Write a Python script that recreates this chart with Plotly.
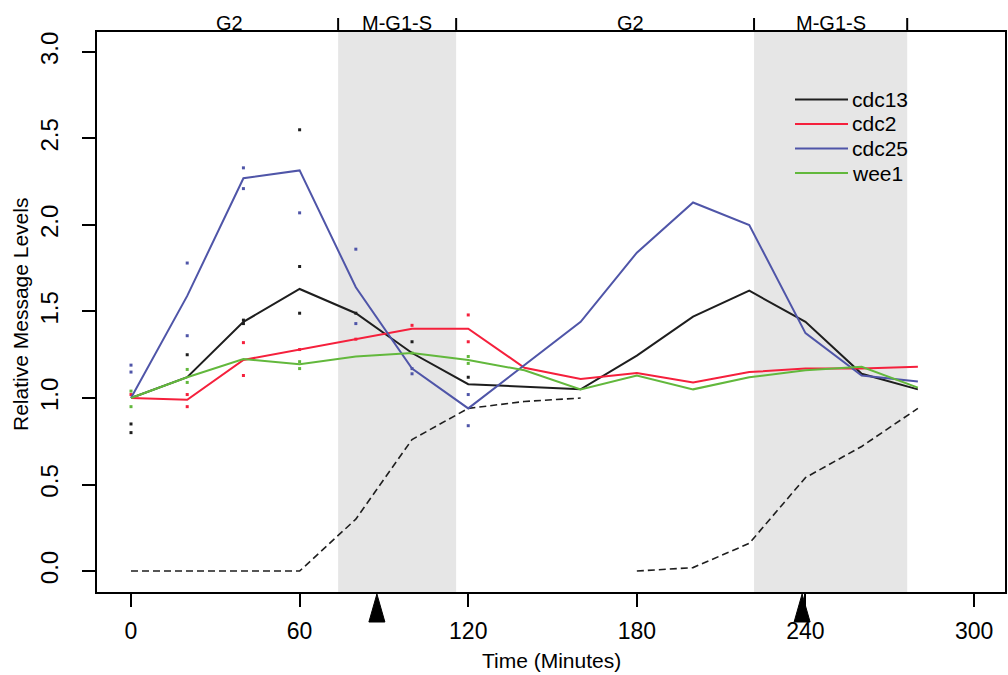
import plotly.graph_objects as go

# ---- data ----
time = [0, 20, 40, 60, 80, 100, 120, 140, 160, 180, 200, 220, 240, 260, 280]
cdc13 = [1.00, 1.12, 1.44, 1.63, 1.49, 1.26, 1.08, 1.065, 1.05, 1.245, 1.47, 1.62, 1.44, 1.14, 1.05]
cdc2 = [1.00, 0.99, 1.22, 1.28, 1.34, 1.40, 1.40, 1.175, 1.11, 1.145, 1.09, 1.15, 1.17, 1.17, 1.18]
cdc25 = [1.00, 1.59, 2.27, 2.315, 1.64, 1.17, 0.94, 1.19, 1.44, 1.84, 2.13, 2.00, 1.375, 1.13, 1.095]
wee1 = [1.00, 1.12, 1.225, 1.195, 1.24, 1.26, 1.22, 1.16, 1.05, 1.13, 1.05, 1.12, 1.16, 1.18, 1.06]

# septation index (dashed), two cycles
sept_time = [0, 20, 40, 60, 80, 100, 120, 140, 160, None, 180, 200, 220, 240, 260, 280]
sept_val = [0, 0, 0, 0, 0.30, 0.76, 0.94, 0.98, 1.00, None, 0, 0.02, 0.16, 0.54, 0.72, 0.94]

# replicate measurements (small dots)
cdc13_rep_t = [0, 0, 20, 40, 40, 60, 60, 60, 80, 100, 120]
cdc13_rep_v = [0.85, 0.80, 1.25, 1.45, 1.43, 2.55, 1.76, 1.49, 1.49, 1.325, 1.12]
cdc25_rep_t = [0, 0, 20, 20, 40, 40, 60, 80, 80, 100, 100, 120, 120]
cdc25_rep_v = [1.19, 1.15, 1.78, 1.36, 2.33, 2.21, 2.07, 1.86, 1.43, 1.17, 1.14, 1.02, 0.84]
cdc2_rep_t = [0, 20, 20, 40, 40, 60, 80, 100, 120, 120]
cdc2_rep_v = [1.02, 1.02, 0.95, 1.32, 1.13, 1.28, 1.34, 1.42, 1.48, 1.325]
wee1_rep_t = [0, 0, 20, 20, 60, 60, 100, 120, 120]
wee1_rep_v = [1.04, 0.95, 1.165, 1.09, 1.21, 1.17, 1.26, 1.24, 1.20]

series_names = ["cdc13", "cdc2", "cdc25", "wee1"]

phase_bounds = [73.7, 115.7, 221.7, 276.2]
phase_labels = ["G2", "M-G1-S", "G2", "M-G1-S"]
phase_label_x = [35.2, 94.7, 177.6, 249.0]
arrow_times = [87.5, 238.8]

x_ticks = [0, 60, 120, 180, 240, 300]
y_ticks = [0.0, 0.5, 1.0, 1.5, 2.0, 2.5, 3.0]

XR = [-12.1, 311.0]
YR = [-0.121, 3.115]

colors = {"cdc13": "#1e1e1e", "cdc2": "#f5203c", "cdc25": "#4f55a8", "wee1": "#62b83c"}
FONT = "Liberation Sans, Arial, Helvetica, sans-serif"

W, H = 1008, 675
ML, MR, MT, MB = 97, 3, 32, 83
PW, PH = W - ML - MR, H - MT - MB


def xp(v):
    return (v - XR[0]) / (XR[1] - XR[0])


def px_x(p):
    return (p - ML) / PW


def px_y(p):
    return 1 - (p - MT) / PH


fig = go.Figure()

# replicate dots
for name, rt, rv in [("cdc13", cdc13_rep_t, cdc13_rep_v), ("cdc2", cdc2_rep_t, cdc2_rep_v),
                     ("cdc25", cdc25_rep_t, cdc25_rep_v), ("wee1", wee1_rep_t, wee1_rep_v)]:
    fig.add_trace(go.Scatter(x=rt, y=rv, mode="markers", showlegend=False,
                             marker=dict(symbol="square", size=3, color=colors[name], line=dict(width=0)),
                             hoverinfo="skip"))

fig.add_trace(go.Scatter(x=sept_time, y=sept_val, mode="lines", showlegend=False,
                         line=dict(color="#1e1e1e", width=1.6, dash="7px,4px")))

for name, vals in zip(series_names, [cdc13, cdc2, cdc25, wee1]):
    fig.add_trace(go.Scatter(x=time, y=vals, mode="lines", name=name, showlegend=False,
                             line=dict(color=colors[name], width=2)))

shapes = []
# shaded M-G1-S phases
for i in range(0, len(phase_bounds), 2):
    shapes.append(dict(type="rect", xref="x", yref="paper", x0=phase_bounds[i], x1=phase_bounds[i + 1],
                       y0=0, y1=1, fillcolor="#e6e6e6", line=dict(width=0), layer="below"))
# top phase boundary ticks
for b in phase_bounds:
    shapes.append(dict(type="line", xref="paper", yref="paper", x0=xp(b), x1=xp(b),
                       y0=1, y1=1 + 14 / PH, line=dict(color="black", width=2)))
# arrows under the x axis
for t in arrow_times:
    c = xp(t)
    w = 8 / PW
    shapes.append(dict(type="path", xref="paper", yref="paper",
                       path=f"M {c - w} {-30 / PH} L {c + w} {-30 / PH} L {c} {-2 / PH} Z",
                       fillcolor="black", line=dict(color="black", width=1)))

annotations = []
# manual legend
leg_rows = [99.5, 124, 148.5, 173]
for name, ry in zip(series_names, leg_rows):
    shapes.append(dict(type="line", xref="paper", yref="paper", x0=px_x(795), x1=px_x(848),
                       y0=px_y(ry), y1=px_y(ry), line=dict(color=colors[name], width=2)))
    annotations.append(dict(text=name, x=px_x(851), y=px_y(ry), xref="paper", yref="paper",
                            xanchor="left", yanchor="middle", showarrow=False, borderpad=0,
                            font=dict(size=21, family=FONT, color="black")))

for lab, lx in zip(phase_labels, phase_label_x):
    annotations.append(dict(text=lab, x=lx, xref="x", y=1.0, yref="paper", xanchor="center",
                            yanchor="bottom", showarrow=False, yshift=-4,
                            font=dict(size=20, family=FONT, color="black")))
annotations.append(dict(text="Relative Message Levels", x=px_x(20), y=px_y(315), xref="paper", yref="paper",
                        xanchor="center", yanchor="middle", textangle=-90, showarrow=False,
                        font=dict(size=21, family=FONT, color="black")))
annotations.append(dict(text="Time (Minutes)", x=px_x(551), y=px_y(660), xref="paper", yref="paper",
                        xanchor="center", yanchor="middle", showarrow=False,
                        font=dict(size=21, family=FONT, color="black")))

fig.update_layout(
    width=W, height=H,
    margin=dict(l=ML, r=MR, t=MT, b=MB, autoexpand=False),
    paper_bgcolor="white", plot_bgcolor="white",
    shapes=shapes, annotations=annotations,
    showlegend=False,
    xaxis=dict(range=XR, tickvals=x_ticks, ticks="outside", ticklen=13, tickwidth=2, tickcolor="black",
               showline=True, linecolor="black", linewidth=2, mirror=True, showgrid=False, zeroline=False,
               automargin=False, ticklabelstandoff=4,
               tickfont=dict(size=23, family=FONT, color="black")),
    yaxis=dict(range=YR, tickvals=y_ticks, tickformat=".1f", ticks="outside", ticklen=13, tickwidth=2,
               tickcolor="black", tickangle=-90, automargin=False, ticklabelstandoff=14,
               showline=True, linecolor="black", linewidth=2, mirror=True, showgrid=False, zeroline=False,
               tickfont=dict(size=24, family=FONT, color="black")),
)

fig.write_html("out.html", config={"displayModeBar": False},
               post_script="document.body.style.margin='0';document.body.style.overflow='hidden';")
